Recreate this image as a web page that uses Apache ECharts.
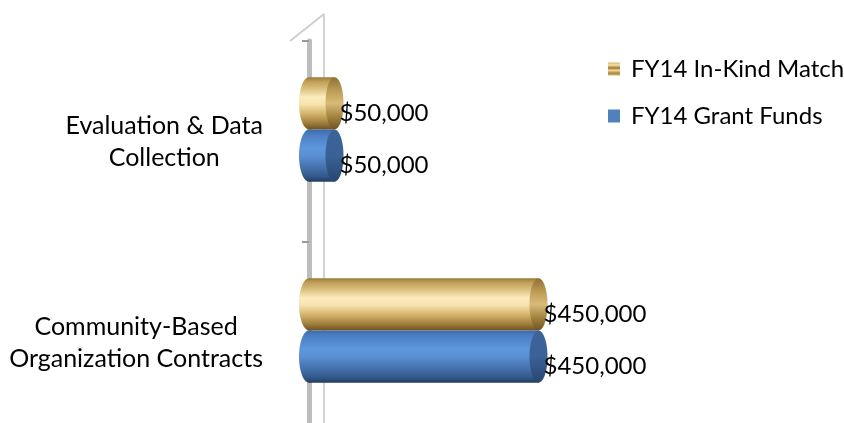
<!DOCTYPE html>
<html>
<head>
<meta charset="utf-8">
<script src="https://cdn.jsdelivr.net/npm/echarts@6/dist/echarts.min.js"></script>
<style>
  html, body { margin: 0; padding: 0; background: #fff; }
  #chart { width: 844px; height: 423px; }
</style>
</head>
<body>
<div id="chart"></div>
<script>
// Budget categories (first entry sits at the bottom of the axis)
const categories = ['Community-Based\nOrganization Contracts', 'Evaluation & Data\nCollection'];
const grantFunds = [450000, 50000];
const inKindMatch = [450000, 50000];
const seriesNames = ['FY14 In-Kind Match', 'FY14 Grant Funds'];

const FONT = 'Lato, "Open Sans", sans-serif';

function grad(stops) {
  return new echarts.graphic.LinearGradient(0, 0, 0, 1,
    stops.map(s => ({ offset: s[0], color: s[1] })));
}

// Shading for each cylinder: body runs top -> bottom, cap is the end face
const styles = {
  gold: {
    body: [[0, '#9a7a36'], [0.08, '#bf9d55'], [0.22, '#dcc07e'], [0.38, '#fbecbf'], [0.52, '#f6e2ac'],
           [0.7, '#d4b36c'], [0.86, '#a58440'], [1, '#6e5222']],
    cap: [[0, '#8f7034'], [0.3, '#c2a25a'], [0.5, '#d8bb78'], [0.75, '#a4843f'], [1, '#6e5222']],
    legend: [[0, '#d9b766'], [0.2, '#f6e3a6'], [0.42, '#9a7630'], [0.6, '#f3dc98'], [0.82, '#a8873f'], [1, '#d6b466']]
  },
  blue: {
    body: [[0, '#3d6aa6'], [0.1, '#4a7ec2'], [0.35, '#5e96dc'], [0.5, '#5a90d4'], [0.72, '#4672ae'],
           [0.9, '#33588a'], [1, '#213c62']],
    cap: [[0, '#3c6498'], [0.5, '#3a6296'], [1, '#284670']],
    legend: [[0, '#4f81bd'], [1, '#4f81bd']]
  }
};

function fmtMoney(v) {
  return '$' + v.toLocaleString('en-US');
}

function cylinder(kind) {
  const st = styles[kind];
  return function (params, api) {
    const v = api.value(0);
    const ci = api.value(1);
    const p0 = api.coord([0, ci]);
    const p1 = api.coord([v, ci]);
    const band = api.size([0, 1])[1];
    const h = band * 0.26;
    const mid = p0[1] - band * 0.06;       // depth shift of the front face
    const y0 = kind === 'gold' ? mid - h : mid;
    const yc = y0 + h / 2;
    const rx = 10;
    const body = grad(st.body);
    return {
      type: 'group',
      children: [
        { type: 'ellipse', shape: { cx: p0[0], cy: yc, rx: rx, ry: h / 2 }, style: { fill: body } },
        { type: 'rect', shape: { x: p0[0], y: y0, width: p1[0] - p0[0], height: h }, style: { fill: body } },
        { type: 'ellipse', shape: { cx: p1[0], cy: yc, rx: rx - 1, ry: h / 2 }, style: { fill: grad(st.cap) } },
        {
          type: 'text',
          x: p1[0] + 5, y: yc + 10,
          style: {
            text: fmtMoney(v), fill: '#000', font: '24px ' + FONT,
            textAlign: 'left', textVerticalAlign: 'middle'
          }
        }
      ]
    };
  };
}

const chart = echarts.init(document.getElementById('chart'), null, { renderer: 'canvas' });

chart.setOption({
  animation: false,
  backgroundColor: '#fff',
  grid: { left: 309, top: 41, width: 255, height: 402, outerBoundsMode: 'none', containLabel: false },
  xAxis: { type: 'value', min: 0, max: 500000, show: false },
  yAxis: {
    type: 'category',
    data: categories,
    offset: 19,
    axisLine: { show: true, lineStyle: { color: '#bdbdbd', width: 5 } },
    axisTick: { show: true, length: 7, lineStyle: { color: '#9a9a9a', width: 2 } },
    axisLabel: {
      margin: 27,
      align: 'right',
      formatter: function (val) {
        return val.split('\n').map(l => '{c|' + l + '}').join('\n');
      },
      rich: { c: { align: 'center', fontSize: 25, fontFamily: FONT, color: '#000', lineHeight: 32 } }
    },
    splitLine: { show: false }
  },
  legend: {
    data: seriesNames,
    orient: 'vertical',
    left: 603, top: 52,
    icon: 'rect',
    itemWidth: 12, itemHeight: 13,
    itemGap: 23,
    selectedMode: false,
    textStyle: { fontSize: 24, fontFamily: FONT, color: '#000', padding: [0, 0, 0, 6] }
  },
  graphic: [
    // back wall edge and the top edge of the side wall
    { type: 'line', shape: { x1: 324, y1: 14, x2: 324, y2: 423 }, style: { stroke: '#d2d2d2', lineWidth: 2 }, z: -1 },
    { type: 'line', shape: { x1: 290, y1: 41, x2: 324, y2: 14 }, style: { stroke: '#cfcfcf', lineWidth: 2 }, z: -1 }
  ],
  series: [
    {
      name: seriesNames[0], type: 'custom',
      itemStyle: { color: grad(styles.gold.legend) },
      encode: { x: 0, y: 1 },
      data: inKindMatch.map((v, i) => [v, i]),
      renderItem: cylinder('gold')
    },
    {
      name: seriesNames[1], type: 'custom',
      itemStyle: { color: '#4f81bd' },
      encode: { x: 0, y: 1 },
      data: grantFunds.map((v, i) => [v, i]),
      renderItem: cylinder('blue')
    }
  ]
});
</script>
</body>
</html>
